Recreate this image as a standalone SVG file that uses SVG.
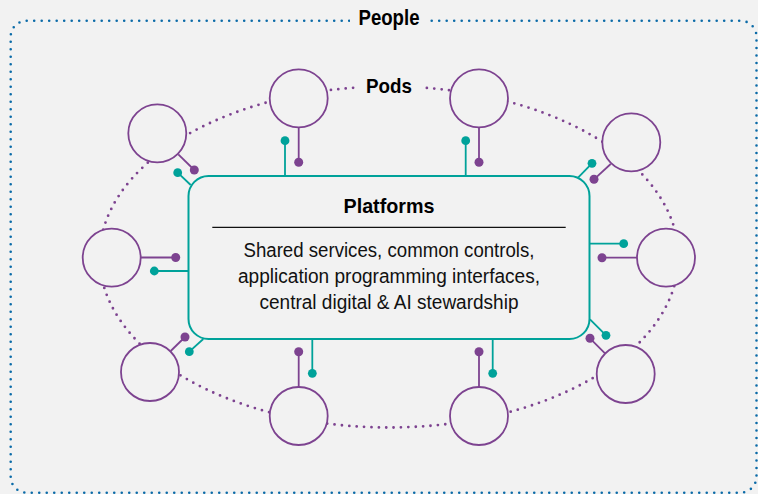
<svg xmlns="http://www.w3.org/2000/svg" width="758" height="494" viewBox="0 0 758 494">
  <style>
    .bg { fill: #f2f2f2; }
    .people-border { fill: none; stroke: #0b6ba8; stroke-width: 2.6; stroke-dasharray: 0 7.5; stroke-linecap: round; }
    .pod-ring { fill: none; stroke: #7d4390; stroke-width: 2.8; stroke-dasharray: 0 7.4; stroke-linecap: round; }
    .pod { fill: #f2f2f2; stroke: #7d4390; stroke-width: 1.8; }
    .platform { fill: #f2f2f2; stroke: #00a29a; stroke-width: 2; }
    .p-line { stroke: #7d4390; stroke-width: 1.8; fill: none; }
    .t-line { stroke: #00a29a; stroke-width: 1.8; fill: none; }
    .p-dot { fill: #7d4390; }
    .t-dot { fill: #00a29a; }
    .label { font-family: "Liberation Sans", Arial, sans-serif; font-weight: bold; fill: #000; text-anchor: middle; }
    .body { font-family: "Liberation Sans", Arial, sans-serif; font-size: 20px; fill: #111; text-anchor: middle; }
  </style>
  <rect class="bg" x="0" y="0" width="758" height="494"/>

  <g id="people">
    <rect class="people-border" x="10.7" y="20.7" width="745.8" height="472" rx="16"/>
    <rect class="bg" x="350" y="6" width="77" height="28"/>
    <text class="label" x="389" y="25.3" font-size="21.5" textLength="61" lengthAdjust="spacingAndGlyphs">People</text>
  </g>

  <g id="pods-ring">
    <ellipse class="pod-ring" cx="389" cy="257" rx="289.5" ry="170.5"/>
    <rect class="bg" x="358" y="74" width="63" height="26"/>
    <text class="label" x="389" y="93.3" font-size="21" textLength="46" lengthAdjust="spacingAndGlyphs">Pods</text>
  </g>

  <g id="pod-top-left"><circle class="pod" cx="298.7" cy="98.3" r="29"/></g>
  <g id="pod-top-right"><circle class="pod" cx="479" cy="98.3" r="29"/></g>
  <g id="pod-upper-left"><circle class="pod" cx="157.3" cy="133.3" r="29"/></g>
  <g id="pod-upper-right"><circle class="pod" cx="631.3" cy="142.3" r="29"/></g>
  <g id="pod-left"><circle class="pod" cx="111.7" cy="257.7" r="29"/></g>
  <g id="pod-right"><circle class="pod" cx="666" cy="257.7" r="29"/></g>
  <g id="pod-lower-left"><circle class="pod" cx="150" cy="372" r="29"/></g>
  <g id="pod-lower-right"><circle class="pod" cx="625.7" cy="374" r="29"/></g>
  <g id="pod-bottom-left"><circle class="pod" cx="298.7" cy="416" r="29"/></g>
  <g id="pod-bottom-right"><circle class="pod" cx="479" cy="416" r="29"/></g>

  <g id="connectors">
    <line class="p-line" x1="298.7" y1="127.3" x2="298.7" y2="162.3"/><circle class="p-dot" cx="298.7" cy="162.3" r="4.5"/>
    <line class="p-line" x1="479" y1="127.3" x2="479" y2="162.3"/><circle class="p-dot" cx="479" cy="162.3" r="4.5"/>
    <line class="p-line" x1="178.3" y1="154.3" x2="194.3" y2="170"/><circle class="p-dot" cx="194.3" cy="170" r="4.5"/>
    <line class="p-line" x1="610.7" y1="164" x2="594" y2="179.3"/><circle class="p-dot" cx="594" cy="179.3" r="4.5"/>
    <line class="p-line" x1="140.7" y1="257.5" x2="175.7" y2="257.5"/><circle class="p-dot" cx="175.7" cy="257.5" r="4.5"/>
    <line class="p-line" x1="637" y1="257.7" x2="602" y2="257.7"/><circle class="p-dot" cx="602" cy="257.7" r="4.5"/>
    <line class="p-line" x1="170.7" y1="351" x2="185" y2="337"/><circle class="p-dot" cx="185" cy="337" r="4.5"/>
    <line class="p-line" x1="298.7" y1="387" x2="298.7" y2="351.7"/><circle class="p-dot" cx="298.7" cy="351.7" r="4.5"/>
    <line class="p-line" x1="479" y1="387" x2="479" y2="351.7"/><circle class="p-dot" cx="479" cy="351.7" r="4.5"/>
    <line class="p-line" x1="605" y1="353.3" x2="590" y2="338.3"/><circle class="p-dot" cx="590" cy="338.3" r="4.5"/>

    <line class="t-line" x1="285" y1="176" x2="285" y2="140.7"/><circle class="t-dot" cx="285" cy="140.7" r="4.4"/>
    <line class="t-line" x1="465.7" y1="176" x2="465.7" y2="140.7"/><circle class="t-dot" cx="465.7" cy="140.7" r="4.4"/>
    <line class="t-line" x1="190.7" y1="185" x2="177.7" y2="172.7"/><circle class="t-dot" cx="177.7" cy="172.7" r="4.4"/>
    <line class="t-line" x1="578.3" y1="177.3" x2="592" y2="163.3"/><circle class="t-dot" cx="592" cy="163.3" r="4.4"/>
    <line class="t-line" x1="188.5" y1="271" x2="154.3" y2="271"/><circle class="t-dot" cx="154.3" cy="271" r="4.4"/>
    <line class="t-line" x1="589.5" y1="243.7" x2="623.7" y2="243.7"/><circle class="t-dot" cx="623.7" cy="243.7" r="4.4"/>
    <line class="t-line" x1="203.3" y1="339" x2="189.3" y2="351.7"/><circle class="t-dot" cx="189.3" cy="351.7" r="4.4"/>
    <line class="t-line" x1="312.3" y1="339" x2="312.3" y2="373.3"/><circle class="t-dot" cx="312.3" cy="373.3" r="4.4"/>
    <line class="t-line" x1="492.7" y1="339" x2="492.7" y2="373.3"/><circle class="t-dot" cx="492.7" cy="373.3" r="4.4"/>
    <line class="t-line" x1="590" y1="319.3" x2="606" y2="335.3"/><circle class="t-dot" cx="606" cy="335.3" r="4.4"/>
  </g>

  <g id="platforms">
    <rect class="platform" x="188.5" y="176" width="401" height="163" rx="20"/>
    <text class="label" x="389" y="213.3" font-size="21" textLength="91" lengthAdjust="spacingAndGlyphs">Platforms</text>
    <line x1="212.3" y1="227.3" x2="565.7" y2="227.3" stroke="#111" stroke-width="1.2"/>
    <text class="body" x="389" y="257.3" textLength="291" lengthAdjust="spacingAndGlyphs">Shared services, common controls,</text>
    <text class="body" x="389" y="283.3" textLength="302" lengthAdjust="spacingAndGlyphs">application programming interfaces,</text>
    <text class="body" x="389" y="309.3" textLength="259" lengthAdjust="spacingAndGlyphs">central digital &amp; AI stewardship</text>
  </g>
</svg>
